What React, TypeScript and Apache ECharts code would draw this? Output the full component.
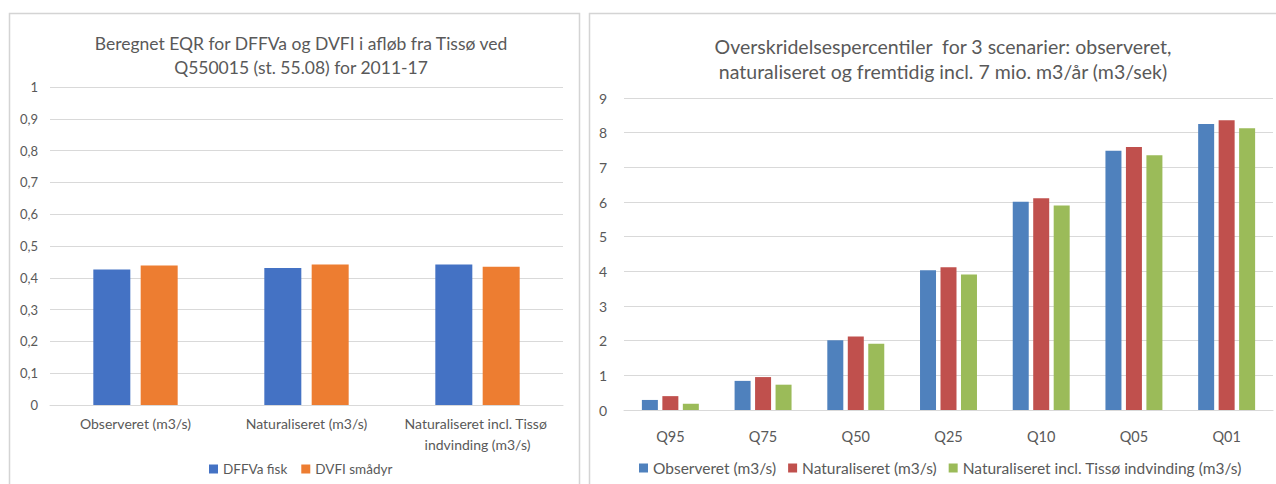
import React, { useEffect, useRef } from "react";
import * as echarts from "echarts";

// Left chart data
const leftTitle = "Beregnet EQR for DFFVa og DVFI i afløb fra Tissø ved\nQ550015 (st. 55.08) for 2011-17";
const leftCategories = ["Observeret (m3/s)", "Naturaliseret (m3/s)", "Naturaliseret incl. Tissø indvinding (m3/s)"];
const leftSeriesNames = ["DFFVa fisk", "DVFI smådyr"];
const dffvaFisk = [0.426, 0.431, 0.442];
const dvfiSmadyr = [0.439, 0.442, 0.435];

// Right chart data
const rightTitle = "Overskridelsespercentiler  for 3 scenarier: observeret,\nnaturaliseret og fremtidig incl. 7 mio. m3/år (m3/sek)";
const rightCategories = ["Q95", "Q75", "Q50", "Q25", "Q10", "Q05", "Q01"];
const rightSeriesNames = ["Observeret (m3/s)", "Naturaliseret (m3/s)", "Naturaliseret incl. Tissø indvinding (m3/s)"];
const observeret = [0.29, 0.84, 2.01, 4.03, 6.01, 7.48, 8.25];
const naturaliseret = [0.40, 0.95, 2.12, 4.12, 6.11, 7.59, 8.36];
const naturaliseretTisso = [0.18, 0.73, 1.91, 3.91, 5.90, 7.35, 8.13];

const FONT = "Lato, 'Open Sans', sans-serif";
const TXT = "#595959";
const GRID = "#d9d9d9";

export default function App() {
  const ref = useRef<HTMLDivElement>(null);
  useEffect(() => {
    if (!ref.current) return;
    const chart = echarts.init(ref.current, null, { renderer: "svg" });
    const fmtComma = (v: number) => String(Math.round(v * 10) / 10).replace(".", ",");
    const axisCommon = {
      axisLine: { show: true, lineStyle: { color: GRID, width: 1 } },
      axisTick: { show: false },
    };
    chart.setOption({
      animation: false,
      backgroundColor: "#ffffff",
      textStyle: { fontFamily: FONT },
      graphic: [
        { type: "rect", shape: { x: 9.5, y: 13.5, width: 570, height: 490 }, style: { fill: "none", stroke: "#d4d4d4", lineWidth: 1.5 } },
        { type: "rect", shape: { x: 589.5, y: 13.5, width: 700, height: 490 }, style: { fill: "none", stroke: "#d4d4d4", lineWidth: 1.5 } },
      ],
      title: [
        {
          text: leftTitle, left: 296, top: 26, textAlign: "center",
          textStyle: { fontFamily: FONT, fontSize: 17.5, fontWeight: "normal", color: TXT, lineHeight: 24 },
        },
        {
          text: rightTitle, left: 938, top: 29, textAlign: "center",
          textStyle: { fontFamily: FONT, fontSize: 19.5, fontWeight: "normal", color: TXT, lineHeight: 25 },
        },
      ],
      legend: [
        {
          data: leftSeriesNames, left: 204, top: 457, width: 300, icon: "rect", itemWidth: 9, itemHeight: 9, itemGap: 14,
          textStyle: { fontFamily: FONT, fontSize: 13.5, color: TXT },
        },
        {
          data: rightSeriesNames, left: 634, top: 455, width: 640, icon: "rect", itemWidth: 9, itemHeight: 9, itemGap: 12,
          textStyle: { fontFamily: FONT, fontSize: 15.5, color: TXT },
        },
      ],
      grid: [
        { left: 50, right: 1276 - 563, top: 87, bottom: 484 - 405 },
        { left: 624, right: 3, top: 98, bottom: 484 - 410 },
      ],
      xAxis: [
        {
          type: "category", gridIndex: 0, data: leftCategories, ...axisCommon,
          axisLabel: { interval: 0, color: TXT, fontSize: 14, margin: 8, width: 165, overflow: "break", lineHeight: 21, fontFamily: FONT },
        },
        {
          type: "category", gridIndex: 1, data: rightCategories, ...axisCommon,
          axisLabel: { interval: 0, color: TXT, fontSize: 14.5, margin: 19, fontFamily: FONT },
        },
      ],
      yAxis: [
        {
          type: "value", gridIndex: 0, min: 0, max: 1, interval: 0.1,
          axisLine: { show: false }, axisTick: { show: false },
          splitLine: { lineStyle: { color: GRID, width: 1 } },
          axisLabel: { color: TXT, fontSize: 13, margin: 12, formatter: fmtComma, fontFamily: FONT },
        },
        {
          type: "value", gridIndex: 1, min: 0, max: 9, interval: 1,
          axisLine: { show: false }, axisTick: { show: false },
          splitLine: { lineStyle: { color: GRID, width: 1 } },
          axisLabel: { color: TXT, fontSize: 14, margin: 17, fontFamily: FONT },
        },
      ],
      series: [
        { name: leftSeriesNames[0], type: "bar", xAxisIndex: 0, yAxisIndex: 0, data: dffvaFisk, barWidth: 37, barGap: "28%", itemStyle: { color: "#4472C4" } },
        { name: leftSeriesNames[1], type: "bar", xAxisIndex: 0, yAxisIndex: 0, data: dvfiSmadyr, barWidth: 37, barGap: "28%", itemStyle: { color: "#ED7D31" } },
        { name: rightSeriesNames[0], type: "bar", xAxisIndex: 1, yAxisIndex: 1, data: observeret, barWidth: 16, barGap: "28%", itemStyle: { color: "#4F81BD" } },
        { name: rightSeriesNames[1], type: "bar", xAxisIndex: 1, yAxisIndex: 1, data: naturaliseret, barWidth: 16, barGap: "28%", itemStyle: { color: "#C0504D" } },
        { name: rightSeriesNames[2], type: "bar", xAxisIndex: 1, yAxisIndex: 1, data: naturaliseretTisso, barWidth: 16, barGap: "28%", itemStyle: { color: "#9BBB59" } },
      ],
    });
    return () => chart.dispose();
  }, []);
  return (
    <div style={{ position: "fixed", left: 0, top: 0, width: 1276, height: 484, background: "#fff" }}>
      <div ref={ref} style={{ width: 1276, height: 484 }} />
    </div>
  );
}
